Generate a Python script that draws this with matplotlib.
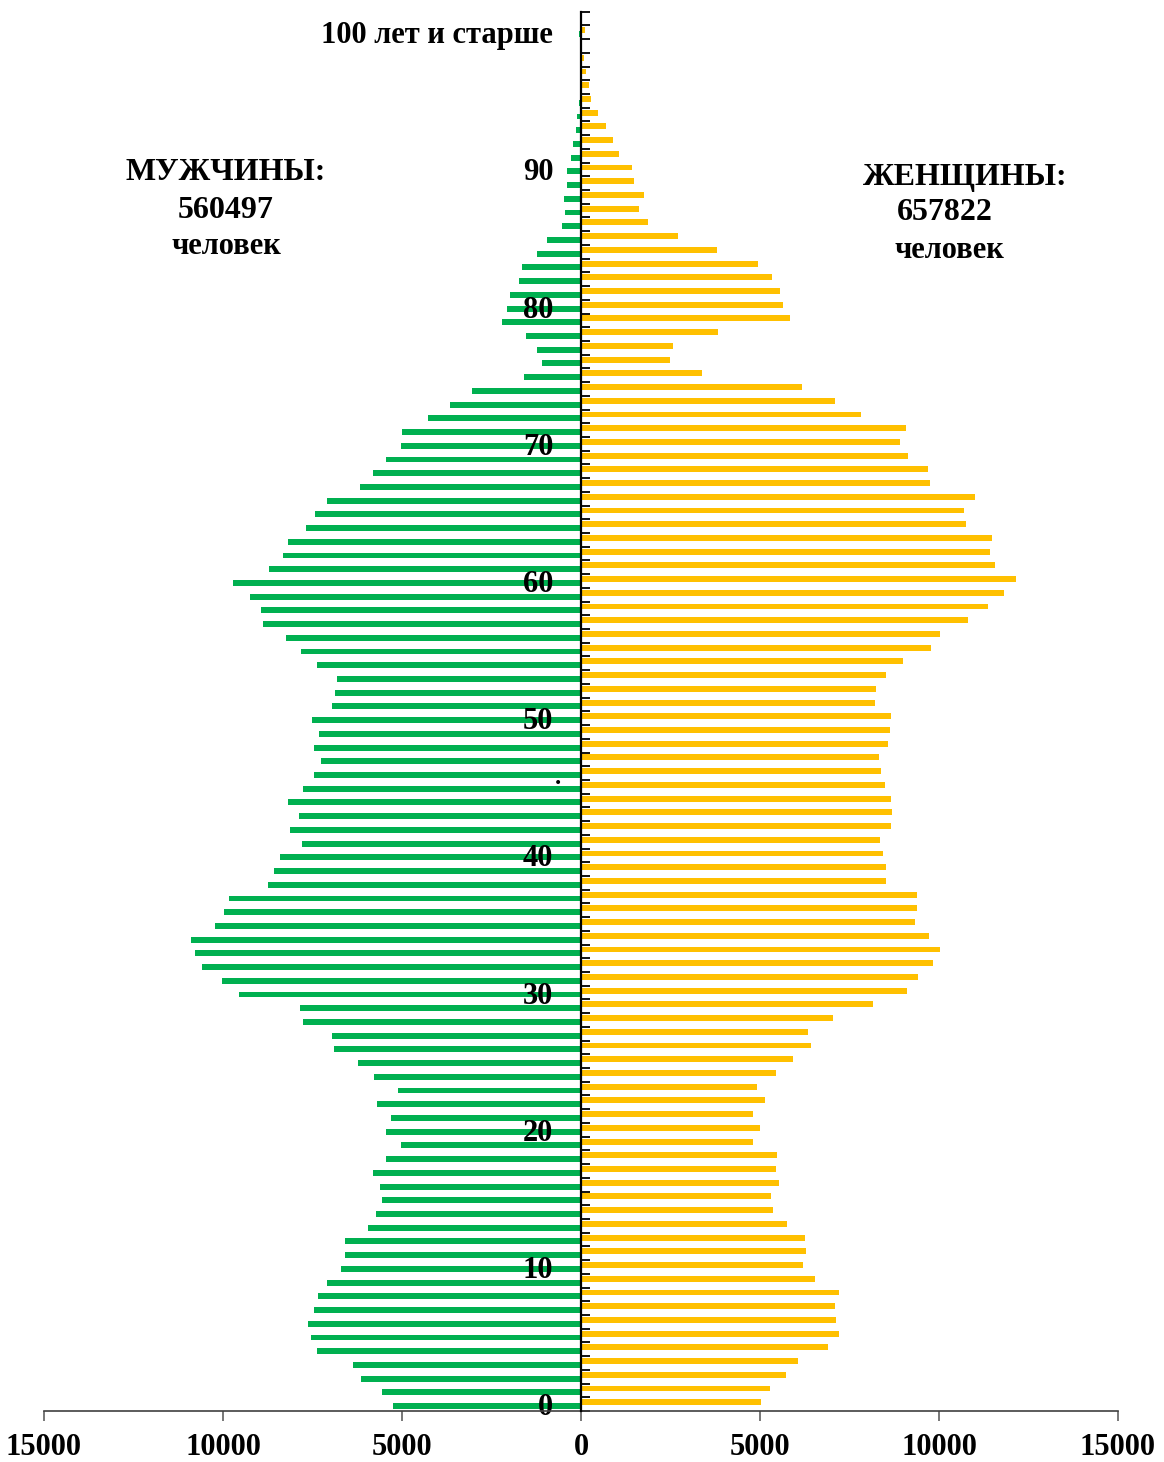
import numpy as np
import matplotlib
matplotlib.use("Agg")
import matplotlib.pyplot as plt
from matplotlib.ticker import FuncFormatter

ages = list(range(0, 101))
men = [5251, 5568, 6154, 6368, 7383, 7532, 7634, 7457, 7355, 7085,
       6694, 6582, 6601, 5940, 5735, 5559, 5605, 5819, 5446, 5037,
       5437, 5298, 5698, 5120, 5782, 6219, 6890, 6964, 7756, 7848,
       9561, 10036, 10595, 10781, 10893, 10232, 9971, 9832, 8733, 8584,
       8416, 7783, 8137, 7886, 8184, 7774, 7448, 7253, 7457, 7327,
       7522, 6964, 6880, 6815, 7364, 7830, 8249, 8891, 8938, 9236,
       9720, 8723, 8323, 8184, 7672, 7429, 7094, 6182, 5809, 5446,
       5037, 5000, 4264, 3650, 3035, 1583, 1099, 1238, 1527, 2216,
       2058, 1974, 1732, 1657, 1238, 940, 521, 456, 484, 400,
       382, 270, 214, 140, 104, 60, 35, 35, 30, 15,
       60]
women = [5037, 5279, 5726, 6052, 6899, 7206, 7132, 7094, 7206, 6536,
         6201, 6284, 6247, 5754, 5353, 5307, 5540, 5456, 5484, 4795,
         5009, 4813, 5139, 4925, 5446, 5912, 6424, 6350, 7039, 8165,
         9114, 9412, 9841, 10036, 9711, 9328, 9394, 9394, 8519, 8528,
         8444, 8361, 8650, 8678, 8659, 8482, 8379, 8314, 8575, 8640,
         8668, 8221, 8239, 8519, 8993, 9776, 10027, 10800, 11377, 11823,
         12141, 11563, 11423, 11479, 10744, 10697, 10996, 9739, 9692, 9142,
         8901, 9077, 7812, 7104, 6182, 3371, 2486, 2561, 3836, 5829,
         5642, 5559, 5326, 4944, 3799, 2719, 1871, 1611, 1769, 1480,
         1415, 1052, 884, 698, 480, 270, 230, 140, 80, 40,
         125]
label_ages = [0, 10, 20, 30, 40, 50, 60, 70, 80, 90, 100]
label_texts = ["0", "10", "20", "30", "40", "50", "60", "70", "80", "90", "100 лет и старше"]
x_ticks = [-15000, -10000, -5000, 0, 5000, 10000, 15000]

men_title = "МУЖЧИНЫ:"
men_total = "560497"
women_title = "ЖЕНЩИНЫ:"
women_total = "657822"
unit = "человек"

FONT = ["Liberation Serif", "DejaVu Serif"]
plt.rcParams["font.family"] = FONT
plt.rcParams["font.weight"] = "bold"

W, H = 1164, 1462
fig = plt.figure(figsize=(W / 100, H / 100), dpi=100)
ax = fig.add_axes([44 / W, 1 - 1411 / H, (1118 - 44) / W, (1411 - 11.7) / H])

y = np.array(ages, dtype=float)
men_arr = -np.array(men, dtype=float)
women_arr = np.array(women, dtype=float)
ax.barh(y - 0.14, men_arr, height=0.43, color="#00B050", zorder=1)
ax.barh(y + 0.14, women_arr, height=0.43, color="#FFC000", zorder=1)

ax.set_xlim(-15000, 15000)
ax.set_ylim(-0.5, 101.5)

for s in ["top", "right"]:
    ax.spines[s].set_visible(False)
ax.spines["left"].set_position(("data", 0))
ax.spines["left"].set_color("black")
ax.spines["left"].set_linewidth(1.6)
ax.spines["left"].set_zorder(3)
ax.spines["bottom"].set_color("#404040")
ax.spines["bottom"].set_linewidth(1.2)

ax.set_xticks(x_ticks)
ax.xaxis.set_major_formatter(FuncFormatter(lambda v, p: f"{abs(int(v))}"))
ax.tick_params(axis="x", direction="out", length=7, width=1.2, color="#606060",
               pad=9, labelsize=22)
for lab in ax.get_xticklabels():
    lab.set_fontweight("bold")

ax.set_yticks(label_ages)
ax.set_yticklabels(label_texts)
ax.set_yticks(np.arange(-0.5, 102, 1.0), minor=True)
ax.tick_params(axis="y", which="major", length=0, pad=20, labelsize=22)
ax.tick_params(axis="y", which="minor", direction="in", length=6.5, width=1.3, color="black")
for lab in ax.get_yticklabels():
    lab.set_fontweight("bold")

ax.text(-636, 45.2, ".", ha="center", va="baseline", fontsize=18, fontweight="bold")

fig.text(226 / W, 1 - 173 / H, men_title, ha="center", va="center", fontsize=23, fontweight="bold")
fig.text(226 / W, 1 - 210 / H, men_total, ha="center", va="center", fontsize=23, fontweight="bold")
fig.text(226 / W, 1 - 246 / H, unit, ha="center", va="center", fontsize=22, fontweight="bold")
fig.text(965 / W, 1 - 177 / H, women_title, ha="center", va="center", fontsize=23, fontweight="bold")
fig.text(945 / W, 1 - 213 / H, women_total, ha="center", va="center", fontsize=23, fontweight="bold")
fig.text(949 / W, 1 - 250 / H, unit, ha="center", va="center", fontsize=22, fontweight="bold")

fig.savefig("out.png", dpi=100)
